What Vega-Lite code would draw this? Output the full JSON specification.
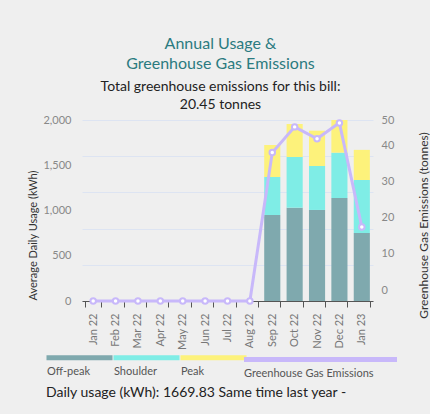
{
  "$schema": "https://vega.github.io/schema/vega-lite/v6.json",
  "autosize": {"type": "none"},
  "padding": {"left": 82, "top": 120, "right": 57, "bottom": 113},
  "width": 291,
  "height": 181,
  "background": "#efefef",
  "config": {
    "font": "Lato",
    "view": {"stroke": null},
    "axis": {"labelColor": "#888", "labelFontSize": 11, "titleFontWeight": "normal", "titleColor": "#333", "titleFontSize": 11}
  },
  "title": {
    "text": ["Annual Usage &", "Greenhouse Gas Emissions"],
    "subtitle": ["Total greenhouse emissions for this bill:", "20.45 tonnes"],
    "color": "#2b7b80",
    "fontSize": 16,
    "fontWeight": "normal",
    "lineHeight": 20,
    "subtitleColor": "#222",
    "subtitleFontSize": 14,
    "subtitleLineHeight": 18,
    "subtitlePadding": 8,
    "anchor": "middle",
    "dx": -7,
    "offset": 2
  },
  "datasets": {
    "usage": [
      {"month": "Sep 22", "series": "Off-peak", "tier": 1, "kwh": 950},
      {"month": "Sep 22", "series": "Shoulder", "tier": 2, "kwh": 420},
      {"month": "Sep 22", "series": "Peak", "tier": 3, "kwh": 354},
      {"month": "Oct 22", "series": "Off-peak", "tier": 1, "kwh": 1031},
      {"month": "Oct 22", "series": "Shoulder", "tier": 2, "kwh": 560},
      {"month": "Oct 22", "series": "Peak", "tier": 3, "kwh": 365},
      {"month": "Nov 22", "series": "Off-peak", "tier": 1, "kwh": 1006},
      {"month": "Nov 22", "series": "Shoulder", "tier": 2, "kwh": 486},
      {"month": "Nov 22", "series": "Peak", "tier": 3, "kwh": 390},
      {"month": "Dec 22", "series": "Off-peak", "tier": 1, "kwh": 1138},
      {"month": "Dec 22", "series": "Shoulder", "tier": 2, "kwh": 501},
      {"month": "Dec 22", "series": "Peak", "tier": 3, "kwh": 361},
      {"month": "Jan 23", "series": "Off-peak", "tier": 1, "kwh": 751},
      {"month": "Jan 23", "series": "Shoulder", "tier": 2, "kwh": 586},
      {"month": "Jan 23", "series": "Peak", "tier": 3, "kwh": 332.83}
    ],
    "emissions": [
      {"month": "Jan 22", "series": "Greenhouse Gas Emissions", "tonnes": 0},
      {"month": "Feb 22", "series": "Greenhouse Gas Emissions", "tonnes": 0},
      {"month": "Mar 22", "series": "Greenhouse Gas Emissions", "tonnes": 0},
      {"month": "Apr 22", "series": "Greenhouse Gas Emissions", "tonnes": 0},
      {"month": "May 22", "series": "Greenhouse Gas Emissions", "tonnes": 0},
      {"month": "Jun 22", "series": "Greenhouse Gas Emissions", "tonnes": 0},
      {"month": "Jul 22", "series": "Greenhouse Gas Emissions", "tonnes": 0},
      {"month": "Aug 22", "series": "Greenhouse Gas Emissions", "tonnes": 0},
      {"month": "Sep 22", "series": "Greenhouse Gas Emissions", "tonnes": 41.0},
      {"month": "Oct 22", "series": "Greenhouse Gas Emissions", "tonnes": 48.1},
      {"month": "Nov 22", "series": "Greenhouse Gas Emissions", "tonnes": 44.8},
      {"month": "Dec 22", "series": "Greenhouse Gas Emissions", "tonnes": 49.2},
      {"month": "Jan 23", "series": "Greenhouse Gas Emissions", "tonnes": 20.45}
    ]
  },
  "encoding": {
    "x": {
      "field": "month",
      "type": "ordinal",
      "sort": ["Jan 22", "Feb 22", "Mar 22", "Apr 22", "May 22", "Jun 22", "Jul 22", "Aug 22", "Sep 22", "Oct 22", "Nov 22", "Dec 22", "Jan 23"],
      "scale": {"domain": ["Jan 22", "Feb 22", "Mar 22", "Apr 22", "May 22", "Jun 22", "Jul 22", "Aug 22", "Sep 22", "Oct 22", "Nov 22", "Dec 22", "Jan 23"], "paddingInner": 0.28, "paddingOuter": 0.14},
      "axis": {"title": null, "labelAngle": 270, "labelPadding": 6, "tickBand": "extent", "tickSize": 6, "tickColor": "#555", "domainColor": "#555", "labelColor": "#777"}
    }
  },
  "layer": [
    {
      "data": {"name": "usage"},
      "mark": {"type": "bar"},
      "encoding": {
        "y": {
          "field": "kwh",
          "type": "quantitative",
          "aggregate": "sum",
          "scale": {"domain": [0, 2000]},
          "axis": {"title": "Average Daily Usage (kWh)", "titleY": 115, "titleX": -44, "values": [0, 500, 1000, 1500, 2000], "format": ",.0f", "grid": false, "domain": false, "ticks": false, "labelPadding": 11}
        },
        "order": {"field": "tier", "sort": "ascending"},
        "color": {
          "field": "series",
          "type": "nominal",
          "scale": {"domain": ["Off-peak", "Shoulder", "Peak"], "range": ["#7fa9ae", "#7fede6", "#fdf27b"]},
          "legend": {
            "orient": "none",
            "legendX": -36,
            "legendY": 246,
            "direction": "horizontal",
            "columns": 3,
            "columnPadding": 0,
            "symbolType": "M-1,-3.3H12.2V-2.3H-1Z",
            "symbolSize": 100,
            "symbolStrokeWidth": 0,
            "labelOffset": -10,
            "labelFontSize": 11,
            "labelColor": "#555",
            "title": "Daily usage (kWh): 1669.83 Same time last year -",
            "titleOrient": "bottom",
            "titleFontSize": 14,
            "titleFontWeight": "normal",
            "titleColor": "#222",
            "titleLimit": 400,
            "titlePadding": 9
          }
        }
      }
    },
    {
      "data": {"name": "emissions"},
      "mark": {"type": "line", "strokeWidth": 3, "point": {"filled": true, "fill": "white", "size": 30, "strokeWidth": 2}},
      "encoding": {
        "y": {
          "field": "tonnes",
          "type": "quantitative",
          "scale": {"domain": [0, 50]},
          "axis": {"orient": "right", "title": "Greenhouse Gas Emissions (tonnes)", "titleAngle": 270, "titleFontSize": 12, "titleX": 50, "titleY": 105, "titleAlign": "center", "titleBaseline": "middle", "values": [0, 10, 20, 30, 40, 50], "grid": true, "gridColor": "#dde4f2", "domain": false, "ticks": false, "labelPadding": 8, "labelOffset": {"expr": "datum.value == 50 ? 0 : -11"}}
        },
        "stroke": {
          "field": "series",
          "type": "nominal",
          "scale": {"range": ["#c8b8fa"]},
          "legend": {
            "orient": "none",
            "legendX": 162,
            "legendY": 246,
            "symbolType": "M-1.5,-2.8H29.1",
            "symbolSize": 100,
            "symbolStrokeWidth": 5,
            "labelOffset": -15,
            "labelFontSize": 11,
            "labelColor": "#555",
            "title": null
          }
        }
      }
    }
  ],
  "resolve": {"scale": {"y": "independent"}}
}
